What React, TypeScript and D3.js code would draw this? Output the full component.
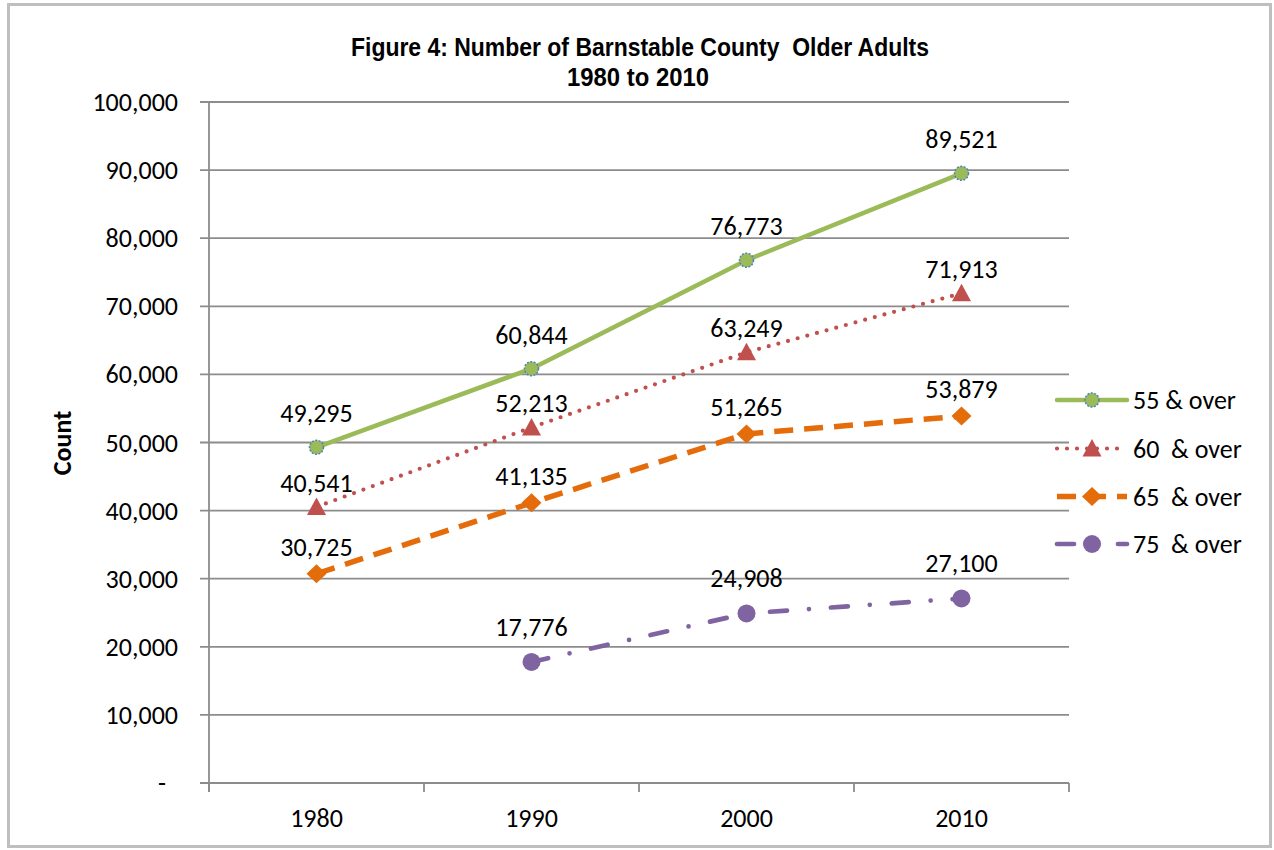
import React from "react";
import * as d3 from "d3";

const years = ["1980", "1990", "2000", "2010"];
const s55 = [49295, 60844, 76773, 89521];
const s60 = [40541, 52213, 63249, 71913];
const s65 = [30725, 41135, 51265, 53879];
const s75: (number | null)[] = [null, 17776, 24908, 27100];
const seriesNames = ["55 & over", "60  & over", "65  & over", "75  & over"];
const yTicks = [0, 10000, 20000, 30000, 40000, 50000, 60000, 70000, 80000, 90000, 100000];

const W = 1274, H = 850;
const FONT = "Carlito, Lato, 'Open Sans', sans-serif";
const TITLE_FONT = "'Liberation Sans Narrow', 'Arial Narrow', 'Liberation Sans', sans-serif";

type Style = {
  color: string;
  width: number;
  dash?: string;
  cap: "round" | "butt";
  marker: "dotcircle" | "triangle" | "diamond" | "circle";
  labelOffset: number;
};

const styles: Style[] = [
  { color: "#9BBB59", width: 4.5, cap: "round", marker: "dotcircle", labelOffset: 34 },
  { color: "#C0504D", width: 4.2, dash: "0 10", cap: "round", marker: "triangle", labelOffset: 24 },
  { color: "#E46C0A", width: 5.5, dash: "19 11", cap: "butt", marker: "diamond", labelOffset: 27 },
  { color: "#8064A2", width: 4.7, dash: "17 22 0 22", cap: "round", marker: "circle", labelOffset: 35 },
];

function Marker({ x, y, st }: { x: number; y: number; st: Style }) {
  if (st.marker === "dotcircle")
    return (
      <circle cx={x} cy={y} r={7} fill={st.color} stroke="#4F81BD" strokeWidth={1.5} strokeDasharray="2 1.5" />
    );
  if (st.marker === "triangle")
    return <path d={`M${x},${y - 9.5}L${x + 9.5},${y + 8}L${x - 9.5},${y + 8}Z`} fill={st.color} />;
  if (st.marker === "diamond")
    return <path d={`M${x},${y - 9.5}L${x + 10},${y}L${x},${y + 9.5}L${x - 10},${y}Z`} fill={st.color} />;
  return <circle cx={x} cy={y} r={9} fill={st.color} />;
}

export default function App() {
  const left = 209, right = 1069, top = 102, bottom = 783;
  const x = d3.scaleBand<string>().domain(years).range([left, right]);
  const y = d3.scaleLinear().domain([0, 100000]).range([bottom, top]);
  const cx = (yr: string) => (x(yr) as number) + x.bandwidth() / 2;
  const fmt = d3.format(",");
  const all = [s55, s60, s65, s75];
  const line = d3
    .line<number | null>()
    .defined((d) => d !== null)
    .x((_, i) => cx(years[i]))
    .y((d) => y(d as number));
  const grid = "#8c8c8c";
  const legendRows = [400, 448.5, 496.5, 544];
  const fs = 26;

  return (
    <svg width={W} height={H} style={{ position: "absolute", left: 0, top: 0, background: "#fff" }}>
      <rect x={0} y={0} width={W} height={H} fill="#fff" />
      <rect x={8.5} y={4.5} width={1262} height={842} fill="none" stroke="#bfbfbf" strokeWidth={3} />
      <text x={640} y={56} textAnchor="middle" fontFamily={TITLE_FONT} fontWeight="bold" fontSize={26}
        textLength={578} lengthAdjust="spacingAndGlyphs" fill="#000" style={{ whiteSpace: "pre" }}>
        {"Figure 4: Number of Barnstable County  Older Adults"}
      </text>
      <text x={638} y={86} textAnchor="middle" fontFamily={TITLE_FONT} fontWeight="bold" fontSize={26}
        textLength={142} lengthAdjust="spacingAndGlyphs" fill="#000">
        1980 to 2010
      </text>

      {yTicks.map((t) => (
        <g key={t}>
          <line x1={200} x2={right} y1={y(t)} y2={y(t)} stroke={grid} strokeWidth={1.8} />
          <text x={t === 0 ? 166 : 178} y={y(t) + 9} textAnchor="end" fontFamily={FONT} fontSize={fs} fill="#000">
            {t === 0 ? "-" : fmt(t)}
          </text>
        </g>
      ))}
      <line x1={left} x2={left} y1={top} y2={bottom + 9} stroke={grid} strokeWidth={1.8} />
      {[...years.map((yr) => x(yr) as number), right].map((v, i) => (
        <line key={i} x1={v} x2={v} y1={bottom} y2={bottom + 9} stroke={grid} strokeWidth={1.8} />
      ))}
      {years.map((yr) => (
        <text key={yr} x={cx(yr)} y={827} textAnchor="middle" fontFamily={FONT} fontSize={fs} fill="#000">
          {yr}
        </text>
      ))}
      <text transform="translate(71,443) rotate(-90)" textAnchor="middle" fontFamily={FONT} fontWeight="bold"
        fontSize={fs} fill="#000">
        Count
      </text>

      {all.map((s, si) => {
        const st = styles[si];
        return (
          <g key={si}>
            <path d={line(s) || ""} fill="none" stroke={st.color} strokeWidth={st.width}
              strokeDasharray={st.dash} strokeLinecap={st.cap} strokeLinejoin="round" />
            {s.map((v, i) =>
              v === null ? null : (
                <g key={i}>
                  <Marker x={cx(years[i])} y={y(v)} st={st} />
                  <text x={cx(years[i])} y={y(v) - st.labelOffset + 9} textAnchor="middle" fontFamily={FONT}
                    fontSize={fs} fill="#000">
                    {fmt(v)}
                  </text>
                </g>
              )
            )}
          </g>
        );
      })}

      {styles.map((st, i) => (
        <g key={i}>
          <line x1={1057} x2={1127} y1={legendRows[i]} y2={legendRows[i]} stroke={st.color} strokeWidth={st.width}
            strokeDasharray={st.dash} strokeLinecap={st.cap} />
          <Marker x={1092} y={legendRows[i]} st={st} />
          <text x={1133} y={legendRows[i] + 9} fontFamily={FONT} fontSize={fs} fill="#000" style={{ whiteSpace: "pre" }}>
            {seriesNames[i]}
          </text>
        </g>
      ))}
    </svg>
  );
}
